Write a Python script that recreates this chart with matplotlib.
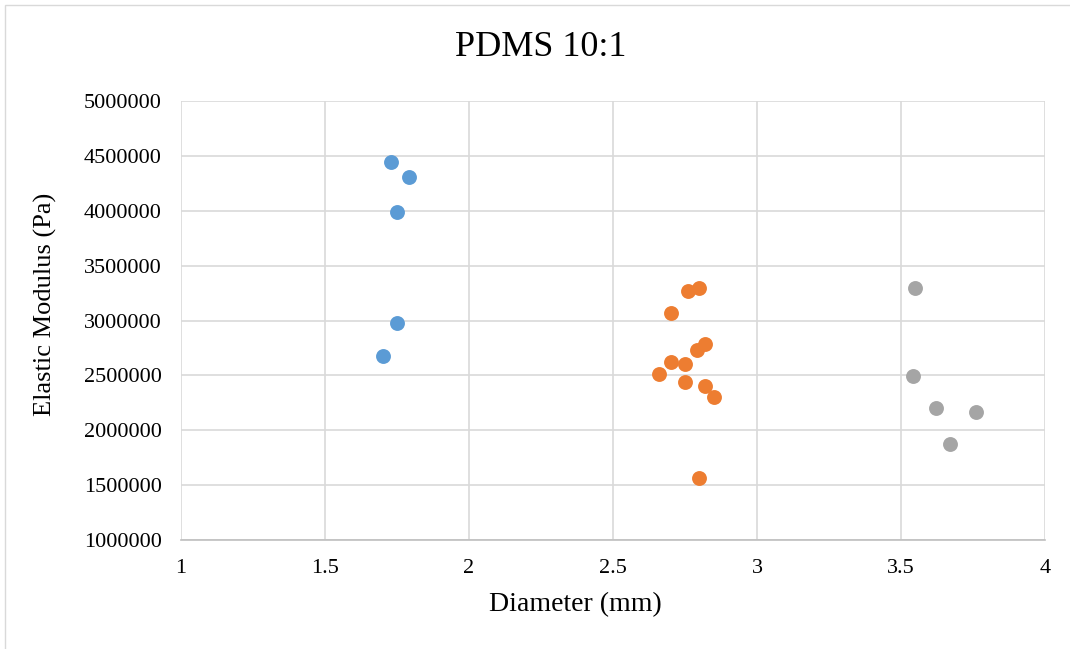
import matplotlib.pyplot as plt
from matplotlib.patches import Rectangle

# diameter (mm) and elastic modulus (Pa) for each group
blue_x = [1.73, 1.79, 1.75, 1.75, 1.70]
blue_y = [4440000, 4310000, 3990000, 2975000, 2680000]

orange_x = [2.76, 2.80, 2.70, 2.82, 2.79, 2.70, 2.75, 2.66, 2.75, 2.82, 2.85, 2.80]
orange_y = [3265000, 3300000, 3065000, 2790000, 2730000, 2625000, 2600000,
            2510000, 2440000, 2400000, 2300000, 1565000]

grey_x = [3.55, 3.54, 3.62, 3.76, 3.67]
grey_y = [3300000, 2490000, 2200000, 2165000, 1875000]

x_ticks = [1, 1.5, 2, 2.5, 3, 3.5, 4]
y_ticks = [1000000, 1500000, 2000000, 2500000, 3000000, 3500000, 4000000, 4500000, 5000000]

plt.rcParams['font.family'] = ['Liberation Serif', 'DejaVu Serif']

W, H = 1070, 649
fig = plt.figure(figsize=(W / 100, H / 100), dpi=100)
ax = fig.add_axes([181 / W, 1 - 540 / H, (1045 - 181) / W, (540 - 101) / H])

ax.scatter(blue_x, blue_y, s=115, color='#5B9BD5', zorder=3, linewidths=0)
ax.scatter(orange_x, orange_y, s=115, color='#ED7D31', zorder=3, linewidths=0)
ax.scatter(grey_x, grey_y, s=115, color='#A5A5A5', zorder=3, linewidths=0)

ax.set_xlim(1, 4)
ax.set_ylim(1000000, 5000000)
ax.set_xticks(x_ticks)
ax.set_xticklabels([f'{t:g}' for t in x_ticks])
ax.set_yticks(y_ticks)
ax.set_yticklabels([str(t) for t in y_ticks])
ax.tick_params(length=0, labelsize=16, colors='#000000', pad=14)

ax.grid(True, color='#D9D9D9', linewidth=1.2, zorder=0)
for side in ['top', 'right', 'left']:
    ax.spines[side].set_visible(False)
ax.spines['bottom'].set_color('#BFBFBF')
ax.spines['bottom'].set_linewidth(1.2)

# axis titles and chart title placed like the original
fig.text(575 / W, 1 - 605 / H, 'Diameter (mm)', fontsize=20, ha='center', va='center')
fig.text(45 / W, 1 - 304 / H, 'Elastic Modulus (Pa)', fontsize=19,
         ha='center', va='center', rotation=90)
fig.text(541 / W, 1 - 47 / H, 'PDMS 10:1', fontsize=26, ha='center', va='center')

fig.patches.append(Rectangle((5 / W, -0.02), 1.1, 1 - 5 / H + 0.02, transform=fig.transFigure,
                             fill=False, edgecolor='#D9D9D9', linewidth=1))

fig.savefig('out.png', dpi=100)
